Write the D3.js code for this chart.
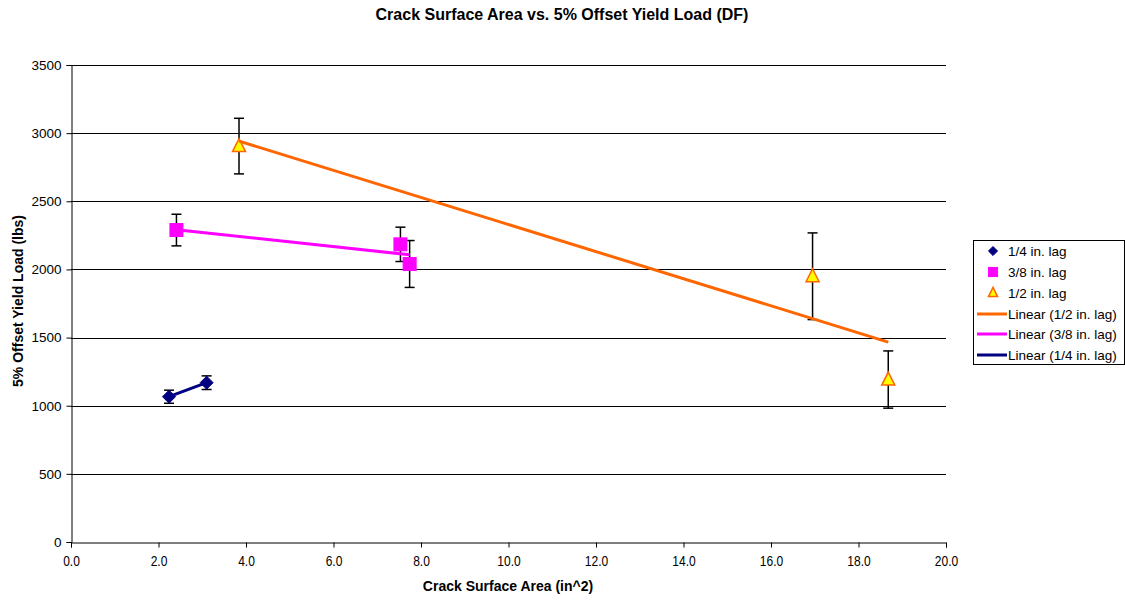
<!DOCTYPE html>
<html>
<head>
<meta charset="utf-8">
<script src="https://cdn.jsdelivr.net/npm/d3@7"></script>
<style>
  body { margin: 0; background: #fff; }
  svg { font-family: Arial, "Liberation Sans", sans-serif; }
</style>
</head>
<body>
<svg id="chart" width="1125" height="600"></svg>
<script>
// ---- data ----
const seriesNames = ["1/4 in. lag", "3/8 in. lag", "1/2 in. lag"];
const lag14X = [2.24, 3.10];
const lag14Y = [1066, 1169];
const lag14Err = [48, 50];
const lag38X = [2.41, 7.53, 7.74];
const lag38Y = [2289, 2184, 2040];
const lag38Err = [116, 126, 172];
const lag12X = [3.84, 16.95, 18.68];
const lag12Y = [2905, 1950, 1192];
const lag12Err = [204, 318, 210];
const xTicks = [0, 2, 4, 6, 8, 10, 12, 14, 16, 18, 20];
const yTicks = [0, 500, 1000, 1500, 2000, 2500, 3000, 3500];
const trendNames = ["Linear (1/2 in. lag)", "Linear (3/8 in. lag)", "Linear (1/4 in. lag)"];

const svg = d3.select("#chart");
const L = 71, R = 946, T = 65, B = 542;
const x = d3.scaleLinear().domain([0, 20]).range([L, R]);
const y = d3.scaleLinear().domain([0, 3500]).range([B, T]);

// title
svg.append("text").attr("x", 562).attr("y", 20).attr("text-anchor", "middle")
  .attr("font-size", 16).attr("font-weight", "bold").text("Crack Surface Area vs. 5% Offset Yield Load (DF)");

// gridlines
svg.append("g").selectAll("line").data(yTicks.filter(d => d > 0)).join("line")
  .attr("x1", L).attr("x2", R).attr("y1", d => Math.round(y(d)) + 0.5).attr("y2", d => Math.round(y(d)) + 0.5)
  .attr("stroke", "#000").attr("stroke-width", 1);

// axes
const yAxis = svg.append("g").attr("transform", `translate(${L + 0.5},0)`)
  .call(d3.axisLeft(y).tickValues(yTicks).tickSize(5).tickPadding(5).tickFormat(d3.format("d")));
const xAxis = svg.append("g").attr("transform", `translate(0,${B + 0.5})`)
  .call(d3.axisBottom(x).tickValues(xTicks).tickSize(5).tickPadding(9).tickFormat(d3.format(".1f")));
[yAxis, xAxis].forEach(a => {
  a.selectAll("line,path").attr("stroke", "#000");
});
yAxis.selectAll("text").attr("font-size", 13.5).attr("fill", "#000").attr("font-family", "Arial, 'Liberation Sans', sans-serif");
xAxis.selectAll("text").attr("font-size", 14).attr("fill", "#000").attr("font-family", "Arial, 'Liberation Sans', sans-serif")
  .attr("transform", "scale(0.86,1)");

// axis titles
svg.append("text").attr("x", 508).attr("y", 591).attr("text-anchor", "middle")
  .attr("font-size", 14).attr("font-weight", "bold").text("Crack Surface Area (in^2)");
svg.append("text").attr("transform", "translate(23,301) rotate(-90)").attr("text-anchor", "middle")
  .attr("font-size", 14).attr("font-weight", "bold").text("5% Offset Yield Load (lbs)");

const series = [
  { xs: lag14X, ys: lag14Y, es: lag14Err, color: "#000080", shape: "diamond" },
  { xs: lag38X, ys: lag38Y, es: lag38Err, color: "#FF00FF", shape: "square" },
  { xs: lag12X, ys: lag12Y, es: lag12Err, color: "#FF6600", shape: "triangle" }
];

function regression(xs, ys) {
  const n = xs.length, mx = d3.mean(xs), my = d3.mean(ys);
  let sxy = 0, sxx = 0;
  for (let i = 0; i < n; i++) { sxy += (xs[i] - mx) * (ys[i] - my); sxx += (xs[i] - mx) ** 2; }
  const m = sxy / sxx; return v => my + m * (v - mx);
}

function drawMarker(g, shape, cx, cy, scale) {
  const s = scale || 1;
  if (shape === "diamond") {
    const r = 6.5 * s;
    g.append("path").attr("d", `M${cx},${cy - r}L${cx + r},${cy}L${cx},${cy + r}L${cx - r},${cy}Z`)
      .attr("fill", "#000080").attr("stroke", "#000080").attr("stroke-width", 1);
  } else if (shape === "square") {
    const h = 6.5 * s;
    g.append("rect").attr("x", cx - h).attr("y", cy - h).attr("width", 2 * h).attr("height", 2 * h)
      .attr("fill", "#FF00FF").attr("stroke", "#FF00FF").attr("stroke-width", 1);
  } else {
    const h = 6.5 * s;
    g.append("path").attr("d", `M${cx},${cy - h - 1}L${cx + h},${cy + h - 1}L${cx - h},${cy + h - 1}Z`)
      .attr("fill", "#FFFF00").attr("stroke", "#FF6600").attr("stroke-width", 1.5);
  }
}

// error bars
const eg = svg.append("g");
series.forEach(s => {
  s.xs.forEach((xv, i) => {
    const px = x(xv), top = y(s.ys[i] + s.es[i]), bot = y(s.ys[i] - s.es[i]);
    eg.append("line").attr("x1", px).attr("x2", px).attr("y1", top).attr("y2", bot).attr("stroke", "#000").attr("stroke-width", 1.5);
    [top, bot].forEach(yy => eg.append("line").attr("x1", px - 5).attr("x2", px + 5).attr("y1", yy).attr("y2", yy)
      .attr("stroke", "#000").attr("stroke-width", 1.5));
  });
});

// markers
const mg = svg.append("g");
series.forEach(s => s.xs.forEach((xv, i) => drawMarker(mg, s.shape, x(xv), y(s.ys[i]))));

// trendlines
const tg = svg.append("g");
series.forEach(s => {
  const f = regression(s.xs, s.ys);
  const x0 = d3.min(s.xs), x1 = d3.max(s.xs);
  tg.append("line").attr("x1", x(x0)).attr("y1", y(f(x0))).attr("x2", x(x1)).attr("y2", y(f(x1)))
    .attr("stroke", s.color).attr("stroke-width", 3);
});

// legend
const lg = svg.append("g");
lg.append("rect").attr("x", 973.5).attr("y", 240.5).attr("width", 151).attr("height", 124)
  .attr("fill", "#fff").attr("stroke", "#000").attr("stroke-width", 1);
const rowY = [251, 272, 293, 314, 334, 355];
seriesNames.forEach((name, i) => {
  drawMarker(lg, series[i].shape, 993, rowY[i], 0.7);
  lg.append("text").attr("x", 1008).attr("y", rowY[i] + 5).attr("font-size", 13.5).text(name);
});
const trendColors = ["#FF6600", "#FF00FF", "#000080"];
trendNames.forEach((name, i) => {
  const yy = rowY[i + 3];
  lg.append("line").attr("x1", 977).attr("x2", 1007).attr("y1", yy).attr("y2", yy).attr("stroke", trendColors[i]).attr("stroke-width", 3);
  lg.append("text").attr("x", 1008).attr("y", yy + 5).attr("font-size", 13.5).text(name);
});
</script>
</body>
</html>
